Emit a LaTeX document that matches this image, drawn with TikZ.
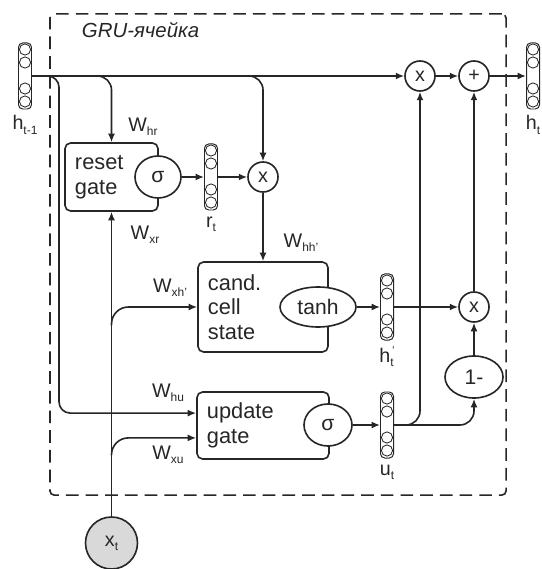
\documentclass[tikz,border=0pt]{standalone}
\usepackage{fontspec}
\setmainfont{Liberation Sans}
\usetikzlibrary{shapes.geometric, arrows.meta, positioning, calc}
\newcommand{\lsub}[1]{\raisebox{-0.4ex}{\fontsize{8.5}{9}\selectfont #1}}

\begin{document}
\begin{tikzpicture}[x=0.025cm, y=-0.025cm, line width=1.15pt, color=black!85,
    box/.style={rectangle, draw, rounded corners=4pt, align=left, inner xsep=0.25cm, font=\fontsize{15.5}{17.5}\selectfont},
    fn/.style={ellipse, draw, fill=white, inner sep=0pt, font=\fontsize{15}{17}\selectfont},
    op/.style={circle, draw, fill=white, minimum size=0.75cm, inner sep=0pt, font=\fontsize{14}{16}\selectfont},
    vecbox/.style={rectangle, draw, rounded corners=3pt, line width=0.7pt, minimum width=0.325cm, minimum height=1.65cm, inner sep=0pt},
    wlbl/.style={font=\fontsize{14}{16}\selectfont, inner sep=1pt},
    arrow/.style={->, >={Latex[length=6pt, width=5pt]}}
]
\useasboundingbox (0,0) rectangle (541,569);
\node (cell) [draw, dashed, dash pattern=on 9pt off 5pt, rounded corners=3pt, minimum width=11.4cm, minimum height=12.025cm] at (278,254.5) {};
\node (title) [below right=0.2cm and 0.8cm of cell.north west, inner sep=0pt, font=\itshape\fontsize{14.5}{16}\selectfont] {GRU-ячейка};
% gates
\node (reset) [box, text width=1.825cm, minimum height=1.7cm] at (111.5,177) {reset\\gate};
\node (cand) [box, text width=2.75cm, minimum height=2.25cm] at (263,307) {cand.\\cell\\state};
\node (update) [box, text width=2.8cm, minimum height=1.675cm] at (263,425.5) {update\\gate};
\node (sig1) [fn, minimum width=1.15cm, minimum height=1.05cm] at (158,177) {σ};
\node (tanh) [fn, minimum width=1.9cm, minimum height=1.0cm] at (318,307) {tanh};
\node (sig2) [fn, minimum width=1.2cm, minimum height=1.05cm] at (328,425) {σ};
\node (om) [fn, minimum width=1.45cm, minimum height=1.05cm] at (474,377) {1-};
% pointwise ops
\node (mr) [op] at (263,177) {x};
\node (m1) [op] at (420,76) {x};
\node (plus) [op] at (474,76) {+};
\node (m2) [op] at (474,307) {x};
\node (xt) [circle, draw, fill=black!15, minimum size=1.3cm, inner sep=0pt, font=\fontsize{14}{16}\selectfont] at (111.5,543) {x\lsub{t}};
% vectors
\node (hprev) [vecbox] at (25,76) {};
\node (rt) [vecbox] at (211,177) {};
\node (hc) [vecbox] at (387,307) {};
\node (ut) [vecbox] at (387,425) {};
\node (hnext) [vecbox] at (533,76) {};
\foreach \v in {hprev, rt, hc, ut, hnext}
  \foreach \d in {0.175, 0.5, 1.15, 1.475}
    \draw[line width=0.6pt] ($(\v.north)+(0,-\d cm)$) circle (0.14cm);
\node (lhprev) [wlbl, below=0.1cm of hprev] {h\lsub{t-1}};
\node (lrt) [wlbl, below=0.1cm of rt] {r\lsub{t}};
\node (lhc) [wlbl, below=0.1cm of hc] {h\lsub{t}\hspace{-1pt}\raisebox{0.8ex}{\fontsize{8}{9}\selectfont '}};
\node (lut) [wlbl, below=0.1cm of ut] {u\lsub{t}};
\node (lhnext) [wlbl, below=0.1cm of hnext] {h\lsub{t}};
% weights
\node (whr) [wlbl] at (143,127) {W\lsub{hr}};
\node (wxr) [wlbl] at (145,235) {W\lsub{xr}};
\node (wxh) [wlbl] at (170,288) {W\lsub{xh'}};
\node (whh) [wlbl] at (301,243) {W\lsub{hh'}};
\node (whu) [wlbl] at (168,393) {W\lsub{hu}};
\node (wxu) [wlbl] at (168,455) {W\lsub{xu}};
% branch points
\coordinate (bhu) at (47,76);
\coordinate (bhr) at (95,76);
\coordinate (bhh) at (245,76);
\coordinate (bxh) at (111.5,325);
\coordinate (bxu) at (111.5,455);
\coordinate (bu) at (405,425);
% connections
\draw [arrow] (hprev) -- (m1);
\draw [arrow] (m1) -- (plus);
\draw [arrow] (plus) -- (hnext);
\draw [arrow, rounded corners=10pt] (bhr) -| (reset.north);
\draw [arrow, rounded corners=10pt] (bhh) -| (mr.north);
\draw [arrow, rounded corners=8pt] (bhu) -| (59,300) |- ([yshift=0.31cm]update.west);
\draw [arrow] (xt) -- (reset);
\draw [arrow, rounded corners=12pt] (bxh) |- (cand.west);
\draw [arrow, rounded corners=12pt] (bxu) |- ([yshift=-0.31cm]update.west);
\draw [arrow] (sig1) -- (rt);
\draw [arrow] (rt) -- (mr);
\draw [arrow] (mr) -- (cand);
\draw [arrow] (tanh) -- (hc);
\draw [arrow] (hc) -- (m2);
\draw [arrow] (sig2) -- (ut);
\draw [arrow, rounded corners=10pt] (ut) -| (om);
\draw [arrow, rounded corners=10pt] (bu) -| (m1);
\draw [arrow] (om) -- (m2);
\draw [arrow] (m2) -- (plus);
\end{tikzpicture}
\end{document}
